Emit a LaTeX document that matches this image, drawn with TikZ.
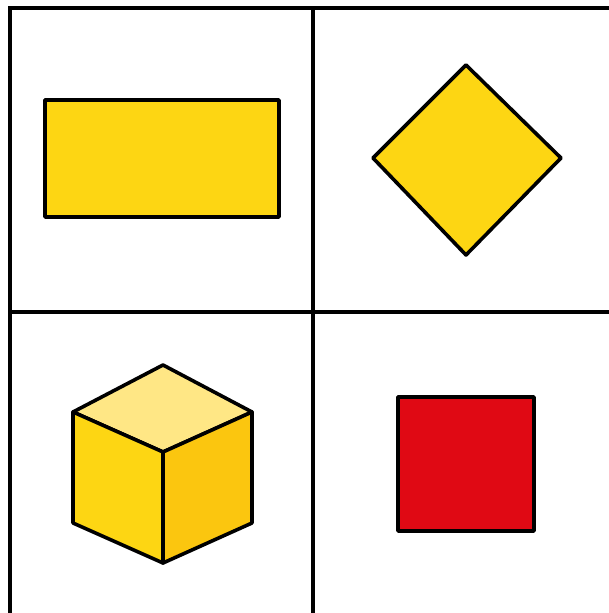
\documentclass[tikz,border=0pt]{standalone}
\usepackage{tikz}
\usepackage{xcolor}
\definecolor{shapeyellow}{RGB}{253, 214, 19}
\definecolor{topyellow}{RGB}{255, 231, 133}
\definecolor{sideyellow}{RGB}{251, 198, 15}
\definecolor{shapered}{RGB}{224, 9, 20}

\begin{document}
\begin{tikzpicture}[
  x=1pt, y=1pt,
  gridline/.style={draw=black, line width=3.2pt},
  solid/.style={draw=black, line width=3.6pt, line join=round},
  yel/.style={solid, fill=shapeyellow}
]
  \useasboundingbox (0,0) rectangle (609,613);
  % grid
  \draw[gridline] (10,0) -- (10,605) -- (609,605);
  \draw[gridline] (313,0) -- (313,605);
  \draw[gridline] (10,301) -- (609,301);

  % top left: rectangle
  \draw[yel] (45,396) rectangle (279,513);

  % top right: diamond
  \draw[yel] (466,548) -- (561,455) -- (466,358) -- (373,455) -- cycle;

  % bottom left: cube
  \coordinate (ctop) at (163,248);
  \coordinate (cul) at (73,201);
  \coordinate (cur) at (252,201);
  \coordinate (cmid) at (163,161);
  \coordinate (cbl) at (73,90);
  \coordinate (cbot) at (163,50);
  \coordinate (cbr) at (252,90);
  \draw[solid, fill=topyellow] (ctop) -- (cur) -- (cmid) -- (cul) -- cycle;
  \draw[yel] (cul) -- (cmid) -- (cbot) -- (cbl) -- cycle;
  \draw[solid, fill=sideyellow] (cmid) -- (cur) -- (cbr) -- (cbot) -- cycle;

  % bottom right: square
  \draw[solid, fill=shapered] (398,82) rectangle (534,216);
\end{tikzpicture}
\end{document}
